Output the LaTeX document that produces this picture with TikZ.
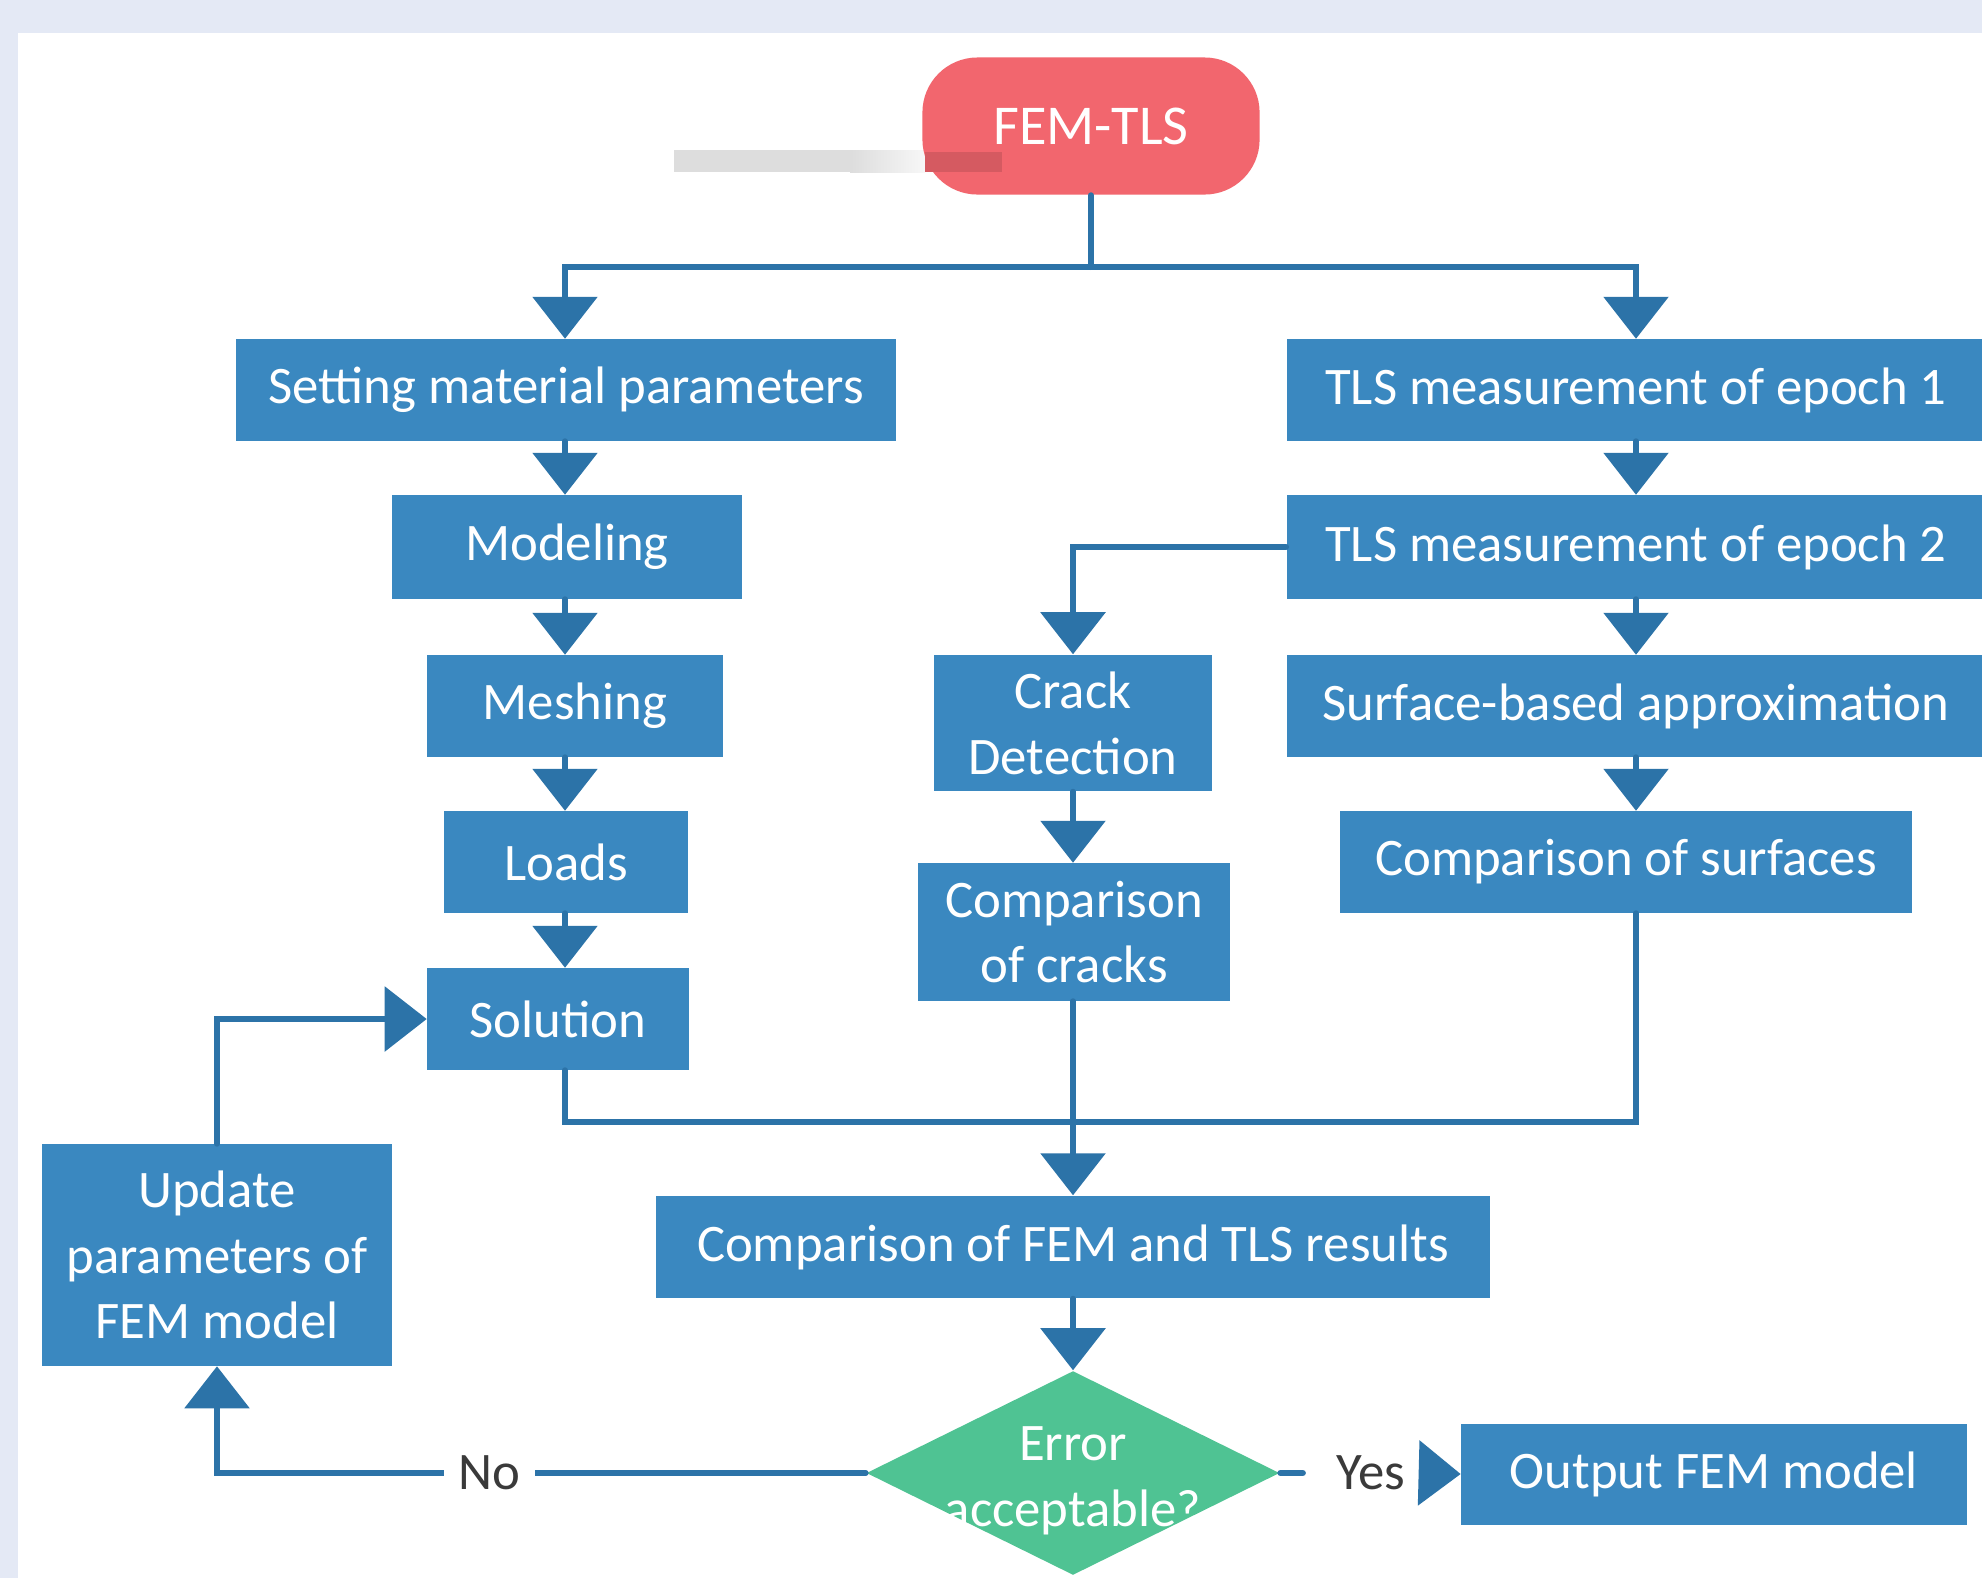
\documentclass[tikz,border=0pt]{standalone}
\usepackage{fontspec}
\setmainfont{Carlito}
\usepackage{tikz}
\usetikzlibrary{arrows.meta, shapes.geometric}
\definecolor{boxBlue}{HTML}{3A88C0}
\definecolor{lineBlue}{HTML}{2C73A8}
\definecolor{startRed}{HTML}{F2666E}
\definecolor{decGreen}{HTML}{4FC393}
\definecolor{frameBlue}{HTML}{E4E9F5}
\definecolor{labelGray}{HTML}{3A3A3A}
\newcommand{\boxfont}{\fontsize{15}{18.7}\selectfont}
\tikzset{
	box/.style={fill=boxBlue, text=white, align=center, inner sep=0pt, minimum height=1.01cm, font=\boxfont},
	decision/.style={diamond, fill=decGreen, inner sep=0pt, minimum width=4.13cm, minimum height=2.04cm},
	link/.style={lineBlue, line width=1.7pt},
	flow/.style={link, -{Triangle[width=0.64cm, length=0.42cm]}},
	lbl/.style={fill=white, text=labelGray, inner xsep=0.15cm, font=\boxfont}
}

\begin{document}
\begin{tikzpicture}[x=0.01cm, y=-0.01cm, line cap=round]
	\fill[frameBlue] (0,0) rectangle (1982,1578);
	\useasboundingbox (0,0) rectangle (1982,1578);
	\fill[white] (18,33) rectangle (1982,1578);
	\coordinate (colL) at (565,0);
	\coordinate (colR) at (1636,0);

	% start
	\fill[gray!27] (674,150) rectangle (850,172);
	\fill[left color=gray!27, right color=gray!6] (850,150) rectangle (925,172);
	\node[box, fill=startRed, rounded corners=0.55cm, minimum width=3.37cm, minimum height=1.37cm, font=\fontsize{16}{19}\selectfont] (fem) at (1091,126) {FEM-TLS};
	\fill[startRed!88!black] (925,152) rectangle (1002,172);

	% FEM side
	\node[box, minimum width=6.6cm] (setp) at (566,390) {Setting material parameters};
	\node[box, minimum width=3.5cm, minimum height=1.03cm] (model) at (567,547) {Modeling};
	\node[box, minimum width=2.95cm] (mesh) at (575,706) {Meshing};
	\node[box, minimum width=2.44cm] (loads) at (566,862) {Loads};
	\node[box, minimum width=2.61cm] (sol) at (558,1019) {Solution};
	\node[box, minimum width=3.5cm, minimum height=2.21cm] (upd) at (217,1255) {Update\\parameters of\\FEM model};

	% TLS side
	\node[box, minimum width=6.98cm] (tls1) at (1636,390) {TLS measurement of epoch 1};
	\node[box, minimum width=6.98cm, minimum height=1.03cm] (tls2) at (1636,547) {TLS measurement of epoch 2};
	\node[box, minimum width=6.98cm] (surf) at (1636,706) {Surface-based approximation};
	\node[box, minimum width=5.71cm] (csurf) at (1626,862) {Comparison of surfaces};
	\node[box, minimum width=2.78cm, minimum height=1.36cm] (crack) at (1073,723) {Crack\\Detection};
	\node[box, minimum width=3.12cm, minimum height=1.37cm] (ccrack) at (1074,932) {Comparison\\of cracks};

	% result
	\node[box, minimum width=8.34cm, minimum height=1.02cm] (cfem) at (1073,1247) {Comparison of FEM and TLS results};
	\node[decision] (err) at (1073,1473) {};
	\node[text=white, align=center, font=\boxfont] (errtext) at (1073,1481) {Error\\acceptable?};
	\node[box, minimum width=5.05cm] (out) at (1714,1474) {Output FEM model};
	\node[lbl] (yes) at (1371,1473) {Yes};

	% connectors
	\coordinate (split) at (1091,267);
	\coordinate (merge) at (1073,1122);
	\draw[link] (fem.south) -- (split);
	\draw[flow] (split) -| (setp.north -| colL);
	\draw[flow] (split) -| (tls1.north);
	\draw[flow] (setp.south -| colL) -- (model.north -| colL);
	\draw[flow] (model.south -| colL) -- (mesh.north -| colL);
	\draw[flow] (mesh.south -| colL) -- (loads.north -| colL);
	\draw[flow] (loads.south -| colL) -- (sol.north -| colL);
	\draw[flow] (tls1.south) -- (tls2.north);
	\draw[flow] (tls2.south) -- (surf.north);
	\draw[flow] (surf.south) -- (csurf.north -| colR);
	\draw[flow] (tls2.west) -| (crack.north);
	\draw[flow] (crack.south) -- (ccrack.north -| crack.south);
	\draw[link] (sol.south -| colL) |- (merge);
	\draw[link] (csurf.south -| colR) |- (merge);
	\draw[flow] (ccrack.south -| cfem.north) -- (cfem.north);
	\draw[flow] (cfem.south) -- (err.north);
	\draw[flow] (err.west) -| node[lbl, pos=0.29] {No} (upd.south);
	\draw[flow] (upd.north) |- (sol.west);
	\draw[link, shorten >=0.18cm] (err.east) -- (yes.west);
	\draw[flow, line cap=butt] (yes.east) -- (out.west);
\end{tikzpicture}
\end{document}
